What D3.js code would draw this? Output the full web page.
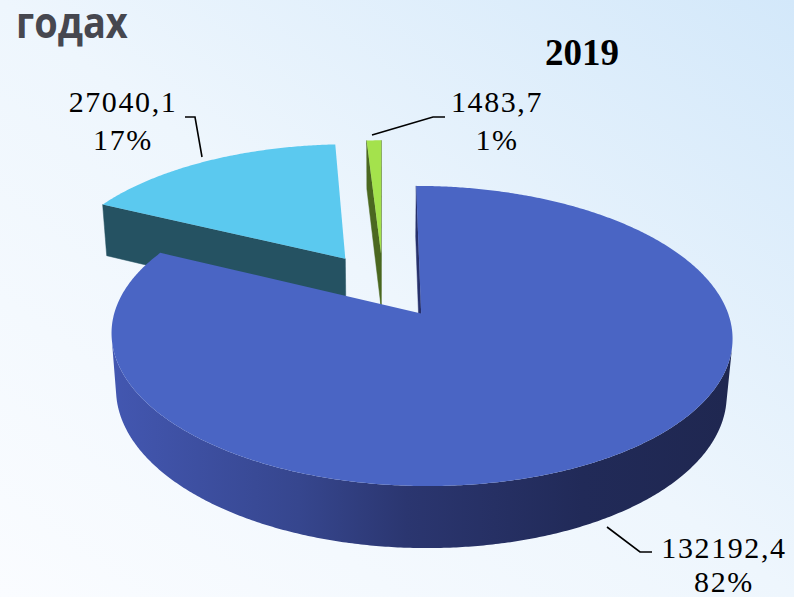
<!DOCTYPE html>
<html><head><meta charset="utf-8">
<script src="https://cdn.jsdelivr.net/npm/d3@7"></script>
<style>html,body{margin:0;padding:0;overflow:hidden;background:#fff}</style>
</head><body>
<script>
// ---- data ----
const values = [132192.4, 27040.1, 1483.7];
const valueLabels = ["132192,4", "27040,1", "1483,7"];
const percentLabels = ["82%", "17%", "1%"];
const topColors = ["#4a65c4", "#5bc9ef", "#a4e24c"];
const sideColors = ["#27316c", "#255262", "#4b6820"];
const chartTitle = "2019";
const headingText = "годах";

// ---- layout ----
const W = 794, H = 597;
const labelLayout = [
  {x: 724, y1: 558, y2: 592, line: [[607, 527], [640, 552], [652, 552]]},
  {x: 123, y1: 112, y2: 150, line: [[185, 117], [195, 117], [202, 157]]},
  {x: 497, y1: 112, y2: 150, line: [[372, 135], [433, 117], [445, 117]]}
];

const svg = d3.select("body").append("svg").attr("width", W).attr("height", H);
const defs = svg.append("defs");
const bg = defs.append("linearGradient").attr("id", "bg")
  .attr("x1", 0).attr("y1", 1).attr("x2", 1).attr("y2", 0);
bg.append("stop").attr("offset", 0).attr("stop-color", "#fafcff");
bg.append("stop").attr("offset", 0.5).attr("stop-color", "#eef6fd");
bg.append("stop").attr("offset", 1).attr("stop-color", "#d3e8fa");
svg.append("rect").attr("width", W).attr("height", H).attr("fill", "url(#bg)");

const wallGrad = defs.append("linearGradient").attr("id", "wall0")
  .attr("gradientUnits", "userSpaceOnUse").attr("x1", 110).attr("y1", 0).attr("x2", 740).attr("y2", 0);
[[0, "#4357b1"], [0.3, "#36468e"], [0.47, "#2b3670"], [0.75, "#212a58"], [1, "#1f2750"]]
  .forEach(([o, c]) => wallGrad.append("stop").attr("offset", o).attr("stop-color", c));

// ---- 3D projection ----
const sph = 0.464, cph = Math.sqrt(1 - sph * sph);
const Dist = 6.07, focal = 298 * 6.07, ox = 383, oy = 285, thick = 0.21, expl = 0.235;
const cam = [0, Dist * sph, -Dist * cph];
function proj(X, Y, Z) {
  const d = Dist + Z * cph - Y * sph;
  const yc = Y * cph + Z * sph;
  return [ox + focal * X / d, oy - focal * yc / d];
}
const line = d3.line();
const poly = pts => line(pts) + "Z";

const arcs = d3.pie().sort(null).value(d => d)(values);
const slices = arcs.map((a, i) => {
  const m = (a.startAngle + a.endAngle) / 2;
  return {i, a0: a.startAngle, a1: a.endAngle, cx: expl * Math.sin(m), cz: expl * Math.cos(m)};
}).sort((p, q) => q.cz - p.cz);

const g = svg.append("g");
slices.forEach(s => {
  const {i, a0, a1, cx, cz} = s;
  const n = Math.max(2, Math.ceil((a1 - a0) / (Math.PI / 360)));
  const angs = d3.range(n + 1).map(k => a0 + (a1 - a0) * k / n);
  const top = a => proj(cx + Math.sin(a), 0, cz + Math.cos(a));
  const bot = a => proj(cx + Math.sin(a), -thick, cz + Math.cos(a));
  const sg = g.append("g");
  // radial faces
  [[a0, a0 - Math.PI / 2], [a1, a1 + Math.PI / 2]].forEach(([a, na]) => {
    const px = cx + 0.5 * Math.sin(a), pz = cz + 0.5 * Math.cos(a);
    const dot = Math.sin(na) * (cam[0] - px) + Math.cos(na) * (cam[2] - pz);
    if (dot > 0) {
      sg.append("path").attr("d", poly([proj(cx, 0, cz), top(a), bot(a), proj(cx, -thick, cz)]))
        .attr("fill", sideColors[i]).attr("stroke", sideColors[i]).attr("stroke-width", 0.5);
    }
  });
  // outer wall
  let runs = [], cur = [];
  angs.forEach(a => {
    const px = cx + Math.sin(a), pz = cz + Math.cos(a);
    const dot = Math.sin(a) * (cam[0] - px) + Math.cos(a) * (cam[2] - pz);
    if (dot > 0) cur.push(a); else { if (cur.length > 1) runs.push(cur); cur = []; }
  });
  if (cur.length > 1) runs.push(cur);
  runs.forEach(r => {
    const pts = r.map(top).concat(r.slice().reverse().map(bot));
    sg.append("path").attr("d", poly(pts))
      .attr("fill", i === 0 ? "url(#wall0)" : sideColors[i]);
  });
  // top face
  sg.append("path").attr("d", poly([proj(cx, 0, cz)].concat(angs.map(top))))
    .attr("fill", topColors[i]);
});

// ---- labels ----
const lg = svg.append("g");
labelLayout.forEach((L, i) => {
  lg.append("path").attr("d", line(L.line)).attr("fill", "none")
    .attr("stroke", "#000").attr("stroke-width", 1.6);
  lg.append("text").attr("x", L.x).attr("y", L.y1).attr("text-anchor", "middle")
    .attr("font-family", "Liberation Serif, serif").attr("font-size", 30)
    .attr("letter-spacing", 1.6).text(valueLabels[i]);
  lg.append("text").attr("x", L.x).attr("y", L.y2).attr("text-anchor", "middle")
    .attr("font-family", "Liberation Serif, serif").attr("font-size", 30)
    .attr("letter-spacing", 1.6).text(percentLabels[i]);
});

svg.append("text").attr("x", 582).attr("y", 65).attr("text-anchor", "middle")
  .attr("font-family", "Liberation Serif, serif").attr("font-weight", "bold")
  .attr("font-size", 37).text(chartTitle);

svg.append("text").attr("transform", "translate(16,38) scale(1,1.15)")
  .attr("font-family", "Open Sans, sans-serif").attr("font-weight", "bold")
  .attr("font-size", 38).attr("fill", "#46474f").text(headingText);
</script>
</body></html>
